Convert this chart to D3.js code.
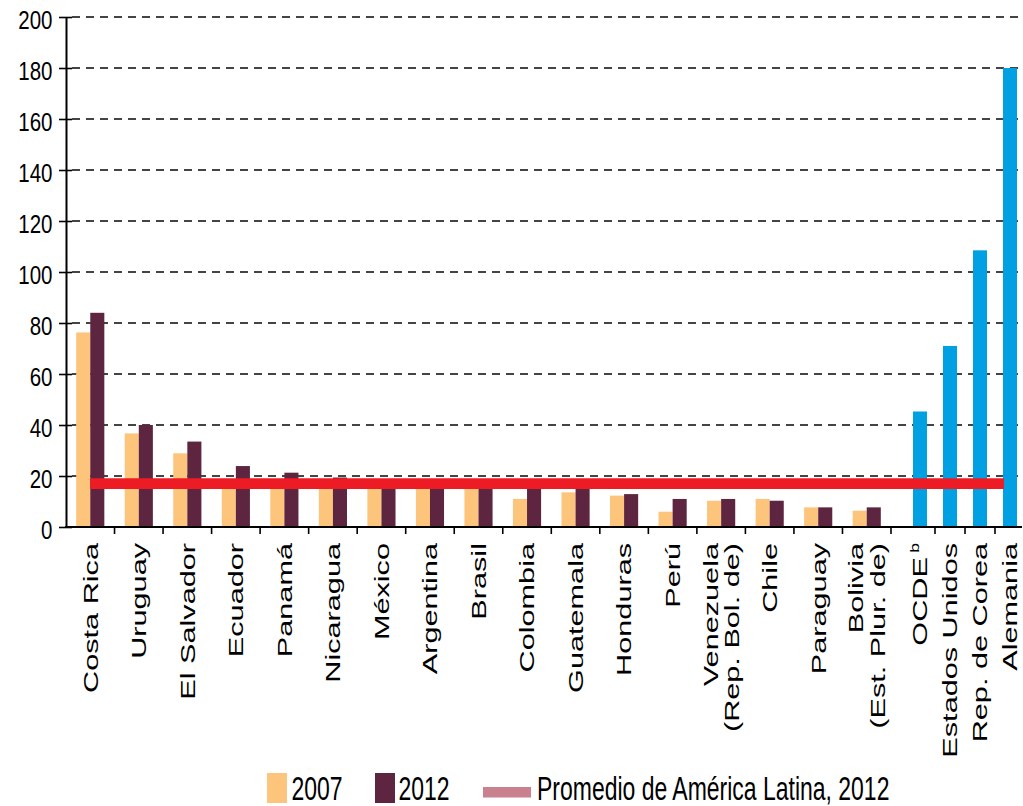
<!DOCTYPE html>
<html>
<head>
<meta charset="utf-8">
<script src="https://cdn.jsdelivr.net/npm/d3@7"></script>
<style>
  html, body { margin: 0; padding: 0; background: #fff; }
  text { font-family: "Liberation Sans", Arial, sans-serif; fill: #000; }
</style>
</head>
<body>
<script>
// ---------- DATA ----------
const categories = ["Costa Rica", "Uruguay", "El Salvador", "Ecuador", "Panamá", "Nicaragua", "México",
  "Argentina", "Brasil", "Colombia", "Guatemala", "Honduras", "Perú", "Venezuela (Rep. Bol. de)",
  "Chile", "Paraguay", "Bolivia (Est. Plur. de)"];
const values2007 = [76.3, 36.7, 28.9, 17.5, 18, 16.5, 16, 17, 17.5, 11, 13.6, 12.3, 6, 10.3, 11, 7.7, 6.4];
const values2012 = [84, 40, 33.5, 23.9, 21.3, 19.4, 18.5, 17.5, 16.5, 16, 15.5, 12.9, 11, 11, 10.3, 7.7, 7.7];
const oecdCategories = ["OCDE", "Estados Unidos", "Rep. de Corea", "Alemania"];
const oecdValues = [45.3, 71, 108.5, 180];
const latinAverage2012 = 17;
const yTicks = [0, 20, 40, 60, 80, 100, 120, 140, 160, 180, 200];
const seriesNames = ["2007", "2012"];
const legendLineLabel = "Promedio de América Latina, 2012";

// ---------- STYLE ----------
const C2007 = "#fdc47c", C2012 = "#5e2541", CBLUE = "#00a0e3", CRED = "#ed1c24", CLEG = "#c9818d";

const W = 1023, H = 806;
const svg = d3.select("body").append("svg").attr("width", W).attr("height", H);

const y = d3.scaleLinear().domain([0, 200]).range([527, 17]);
const x0 = d3.scaleBand().domain(categories).range([66, 891]).paddingInner(0.42).paddingOuter(0.21);
const x1 = d3.scaleBand().domain(seriesNames).range([0, x0.bandwidth()]);
const xO = d3.scaleBand().domain(oecdCategories).range([905, 1025]).paddingInner(0.533).paddingOuter(0.267);

const step = x0.step();
const bandStart = i => x0.range()[0] + i * step;

// gridlines
svg.append("g").selectAll("line").data(yTicks.filter(d => d > 0)).join("line")
  .attr("x1", 72).attr("x2", 1021)
  .attr("y1", d => y(d)).attr("y2", d => y(d))
  .attr("stroke", "#444").attr("stroke-width", 2).attr("stroke-dasharray", "8,6");

// bars LA
const data = categories.map((c, i) => ({ c, v: [values2007[i], values2012[i]] }));
const g = svg.append("g").selectAll("g").data(data).join("g")
  .attr("transform", d => `translate(${x0(d.c)},0)`);
g.selectAll("rect").data(d => d.v.map((v, k) => ({ k, v }))).join("rect")
  .attr("x", d => x1(seriesNames[d.k]))
  .attr("width", x1.bandwidth())
  .attr("y", d => y(d.v))
  .attr("height", d => y(0) - y(d.v))
  .attr("fill", d => d.k === 0 ? C2007 : C2012);

// OECD bars
svg.append("g").selectAll("rect").data(oecdCategories.map((c, i) => ({ c, v: oecdValues[i] }))).join("rect")
  .attr("x", d => xO(d.c)).attr("width", xO.bandwidth())
  .attr("y", d => y(d.v)).attr("height", d => y(0) - y(d.v))
  .attr("fill", CBLUE);

// average line
svg.append("line")
  .attr("x1", x0(categories[0]) + x0.bandwidth() / 2)
  .attr("x2", xO(oecdCategories[3]) + 1)
  .attr("y1", y(latinAverage2012)).attr("y2", y(latinAverage2012))
  .attr("stroke", CRED).attr("stroke-width", 10.7);

// y axis
const yAxis = svg.append("g").attr("transform", "translate(66,0)")
  .call(d3.axisLeft(y).tickValues(yTicks).tickSize(7).tickSizeOuter(0));
yAxis.select(".domain").attr("stroke", "#000").attr("stroke-width", 2);
yAxis.selectAll(".tick line").attr("x1", 6).attr("x2", -7).attr("stroke", "#000").attr("stroke-width", 1.6);
yAxis.selectAll(".tick text").remove();
yAxis.selectAll(".tick").append("text")
  .attr("transform", "translate(-13.5,0) scale(0.8,1)")
  .attr("text-anchor", "end").attr("dy", "0.44em")
  .style("font-size", "25.6px")
  .text(d => d);

// x axis line
svg.append("line").attr("x1", 65).attr("x2", 1022).attr("y1", y(0)).attr("y2", y(0))
  .attr("stroke", "#000").attr("stroke-width", 2);

// x ticks at band boundaries
const tickXs = d3.range(1, categories.length + 1).map(bandStart)
  .concat(oecdCategories.slice(1).map(c => xO(c) - (xO.step() - xO.bandwidth()) / 2));
svg.append("g").selectAll("line").data(tickXs).join("line")
  .attr("x1", d => d).attr("x2", d => d)
  .attr("y1", y(0)).attr("y2", y(0) + 7)
  .attr("stroke", "#000").attr("stroke-width", 1.6);

// x labels
function addLabel(cx, lines, sup) {
  const n = lines.length;
  lines.forEach((ln, i) => {
    const off = (i - (n - 1) / 2) * 21.5;
    const t = svg.append("text")
      .attr("transform", `translate(${cx + off + 7.4},543) rotate(-90) scale(1.46,1)`)
      .attr("text-anchor", "end")
      .style("font-size", "21px");
    t.append("tspan").text(ln);
    if (sup && i === n - 1) {
      t.append("tspan").text("b").style("font-size", "12px").attr("dx", 3).attr("dy", -8);
    }
  });
}
categories.forEach(c => {
  const parts = c.includes(" (") ? [c.slice(0, c.indexOf(" (")), c.slice(c.indexOf(" (") + 1)] : [c];
  addLabel(x0(c) + x0.bandwidth() / 2, parts, false);
});
oecdCategories.forEach((c, i) => {
  addLabel(xO(c) + xO.bandwidth() / 2, [c], i === 0);
});

// legend
const leg = svg.append("g");
leg.append("rect").attr("x", 267).attr("y", 773).attr("width", 20).attr("height", 30).attr("fill", C2007);
leg.append("text").attr("transform", "translate(291.5,799.5) scale(0.705,1)").style("font-size", "32.6px").text(seriesNames[0]);
leg.append("rect").attr("x", 375).attr("y", 773).attr("width", 20).attr("height", 30).attr("fill", C2012);
leg.append("text").attr("transform", "translate(398.5,799.5) scale(0.705,1)").style("font-size", "32.6px").text(seriesNames[1]);
leg.append("rect").attr("x", 483).attr("y", 787).attr("width", 48).attr("height", 10.5).attr("fill", CLEG);
leg.append("text").attr("transform", "translate(537,799.5) scale(0.705,1)").style("font-size", "32.6px").text(legendLineLabel);
</script>
</body>
</html>
